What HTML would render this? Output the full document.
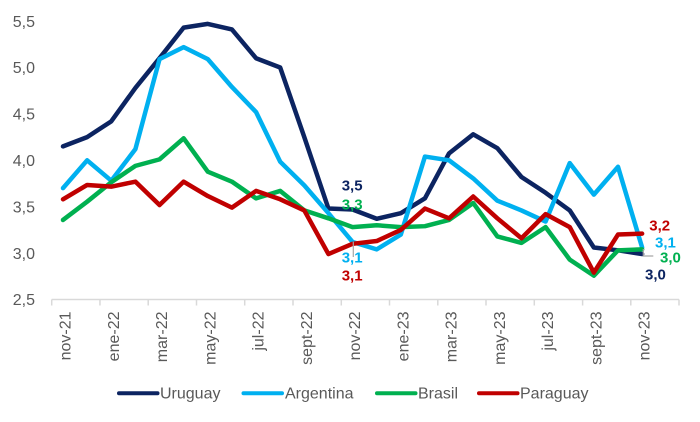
<!DOCTYPE html>
<html>
<head>
<meta charset="utf-8">
<style>
html,body{margin:0;padding:0;background:#fff;}
svg{display:block;}
text{font-family:"Liberation Sans",Arial,sans-serif;}
</style>
</head>
<body>
<svg width="700" height="422" viewBox="0 0 700 422" xmlns="http://www.w3.org/2000/svg">
<rect width="700" height="422" fill="#fff"/>
<!-- Y labels -->
<g font-size="16" fill="#595959" text-anchor="end">
<text x="35" y="26.8">5,5</text>
<text x="35" y="73.2">5,0</text>
<text x="35" y="119.6">4,5</text>
<text x="35" y="166">4,0</text>
<text x="35" y="212.4">3,5</text>
<text x="35" y="258.8">3,0</text>
<text x="35" y="305.2">2,5</text>
</g>
<!-- X axis -->
<line x1="51.7" y1="299.5" x2="679" y2="299.5" stroke="#D9D9D9" stroke-width="1.5"/>
<g stroke="#D9D9D9" stroke-width="1.5">
<line x1="51.7" y1="299.5" x2="51.7" y2="305.5"/>
<line x1="99.96" y1="299.5" x2="99.96" y2="305.5"/>
<line x1="148.2" y1="299.5" x2="148.2" y2="305.5"/>
<line x1="196.5" y1="299.5" x2="196.5" y2="305.5"/>
<line x1="244.7" y1="299.5" x2="244.7" y2="305.5"/>
<line x1="293" y1="299.5" x2="293" y2="305.5"/>
<line x1="341.3" y1="299.5" x2="341.3" y2="305.5"/>
<line x1="389.5" y1="299.5" x2="389.5" y2="305.5"/>
<line x1="437.8" y1="299.5" x2="437.8" y2="305.5"/>
<line x1="486" y1="299.5" x2="486" y2="305.5"/>
<line x1="534.3" y1="299.5" x2="534.3" y2="305.5"/>
<line x1="582.6" y1="299.5" x2="582.6" y2="305.5"/>
<line x1="630.8" y1="299.5" x2="630.8" y2="305.5"/>
<line x1="679" y1="299.5" x2="679" y2="305.5"/>
</g>
<!-- X labels -->
<g font-size="16" fill="#595959" text-anchor="end">
<text transform="translate(70.5,311.5) rotate(-90)">nov-21</text>
<text transform="translate(118.8,311.5) rotate(-90)">ene-22</text>
<text transform="translate(167,311.5) rotate(-90)">mar-22</text>
<text transform="translate(215.3,311.5) rotate(-90)">may-22</text>
<text transform="translate(263.5,311.5) rotate(-90)">jul-22</text>
<text transform="translate(311.8,311.5) rotate(-90)">sept-22</text>
<text transform="translate(360.1,311.5) rotate(-90)">nov-22</text>
<text transform="translate(408.3,311.5) rotate(-90)">ene-23</text>
<text transform="translate(456.6,311.5) rotate(-90)">mar-23</text>
<text transform="translate(504.8,311.5) rotate(-90)">may-23</text>
<text transform="translate(553.1,311.5) rotate(-90)">jul-23</text>
<text transform="translate(601.4,311.5) rotate(-90)">sept-23</text>
<text transform="translate(649.6,311.5) rotate(-90)">nov-23</text>
</g>
<!-- Series -->
<g transform="matrix(24.13 0 0 -92.8 63 531.5)" fill="none" stroke-width="4.5" stroke-linejoin="round" stroke-linecap="round">
<polyline vector-effect="non-scaling-stroke" stroke="#0C2461" points="0,4.15 1,4.25 2,4.42 3,4.78 4,5.1 5,5.43 6,5.47 7,5.41 8,5.1 9,5.0 10,4.25 11,3.48 12,3.47 13,3.37 14,3.43 15,3.59 16,4.075 17,4.28 18,4.13 19,3.82 20,3.65 21,3.46 22,3.06 23,3.03 24,2.99"/>
<polyline vector-effect="non-scaling-stroke" stroke="#00B0F0" points="0,3.70 1,4.0 2,3.78 3,4.12 4,5.09 5,5.22 6,5.09 7,4.79 8,4.52 9,3.985 10,3.73 11,3.43 12,3.12 13,3.04 14,3.2 15,4.04 16,4.0 17,3.805 18,3.565 19,3.46 20,3.34 21,3.97 22,3.63 23,3.93 24,3.06"/>
<polyline vector-effect="non-scaling-stroke" stroke="#00B050" points="0,3.357 1,3.554 2,3.763 3,3.94 4,4.01 5,4.237 6,3.877 7,3.77 8,3.59 9,3.67 10,3.46 11,3.375 12,3.28 13,3.30 14,3.28 15,3.29 16,3.357 17,3.54 18,3.18 19,3.11 20,3.28 21,2.93 22,2.757 23,3.03 24,3.04"/>
<polyline vector-effect="non-scaling-stroke" stroke="#C00000" points="0,3.58 1,3.734 2,3.716 3,3.77 4,3.518 5,3.77 6,3.615 7,3.49 8,3.67 9,3.58 10,3.46 11,2.99 12,3.10 13,3.13 14,3.25 15,3.48 16,3.375 17,3.61 18,3.375 19,3.16 20,3.42 21,3.28 22,2.79 23,3.2 24,3.21"/>
</g>
<!-- Leader lines -->
<line x1="353.3" y1="241.7" x2="353.3" y2="257" stroke="#A6A6A6" stroke-width="1.2"/>
<polyline points="643.3,249 643.3,256 653.3,256" fill="none" stroke="#A6A6A6" stroke-width="1.2"/>
<!-- Data labels -->
<g font-size="15" font-weight="bold">
<text x="341.7" y="190.4" fill="#0C2461">3,5</text>
<text x="341.7" y="209.4" fill="#00B050">3,3</text>
<text x="341.7" y="262.7" fill="#00B0F0">3,1</text>
<text x="341.7" y="280.4" fill="#C00000">3,1</text>
<text x="649.3" y="230.4" fill="#C00000">3,2</text>
<text x="655" y="247.7" fill="#00B0F0">3,1</text>
<text x="660" y="262.7" fill="#00B050">3,0</text>
<text x="645" y="279.4" fill="#0C2461">3,0</text>
</g>
<!-- Legend -->
<g stroke-width="4" stroke-linecap="round">
<line x1="119" y1="393.3" x2="157.5" y2="393.3" stroke="#0C2461"/>
<line x1="243.5" y1="393.3" x2="282" y2="393.3" stroke="#00B0F0"/>
<line x1="377" y1="393.3" x2="415.5" y2="393.3" stroke="#00B050"/>
<line x1="479" y1="393.3" x2="517.5" y2="393.3" stroke="#C00000"/>
</g>
<g font-size="16" fill="#595959">
<text x="160" y="398.5">Uruguay</text>
<text x="285" y="398.5">Argentina</text>
<text x="418" y="398.5">Brasil</text>
<text x="520" y="398.5">Paraguay</text>
</g>
</svg>
</body>
</html>
